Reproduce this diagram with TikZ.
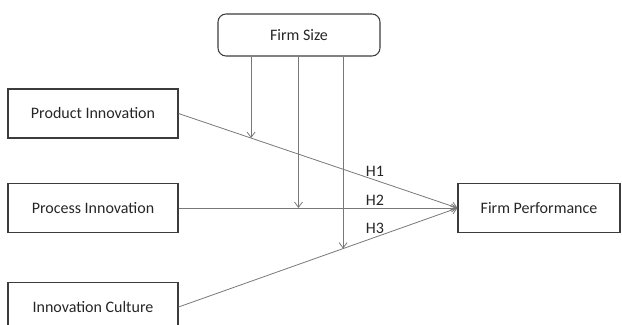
\documentclass[tikz,border=0pt]{standalone}
\usepackage{fontspec}
\setmainfont{Carlito}
\definecolor{boxline}{RGB}{60, 60, 60}
\definecolor{linkgray}{RGB}{120, 120, 120}
\usetikzlibrary{arrows.meta, positioning, calc}

\begin{document}
\begin{tikzpicture}[x=0.75pt, y=-0.75pt,
    varbox/.style={draw=boxline, line width=0.8pt, minimum width=127.5pt, minimum height=36.75pt, font=\fontsize{12}{14}\selectfont, text=black!85},
    modbox/.style={varbox, rounded corners=6pt, minimum width=121.5pt, minimum height=31.5pt},
    link/.style={draw=linkgray, line width=0.6pt, -{Straight Barb[length=4pt, width=6pt]}},
    hyp/.style={font=\fontsize{12}{14}\selectfont, text=black!85}]
  \clip (0,0) rectangle (622,325);
  % boxes
  \node[modbox] (fs) at (299,35) {Firm Size};
  \node[varbox] (pi) at (93,113.5) {Product Innovation};
  \node[varbox] (pc) at (93,208) {Process Innovation};
  \node[varbox] (ic) at (93,307) {Innovation Culture};
  \node[varbox, minimum width=121.5pt] (fp) at (539,208) {Firm Performance};
  % direct effects
  \draw[link] (pi.east) -- (fp.west) coordinate[pos=0.26] (m1);
  \draw[link] (pc.east) -- (fp.west) coordinate[pos=0.43] (m2);
  \draw[link] (ic.east) -- (fp.west) coordinate[pos=0.59] (m3);
  % moderation
  \draw[link] (fs.south -| m1) -- (m1);
  \draw[link] (fs.south -| m2) -- (m2);
  \draw[link] (fs.south -| m3) -- (m3);
  % labels
  \node[hyp] (h1) at (375,171) {H1};
  \node[hyp] (h2) at (375,200) {H2};
  \node[hyp] (h3) at (375,228) {H3};
\end{tikzpicture}
\end{document}
